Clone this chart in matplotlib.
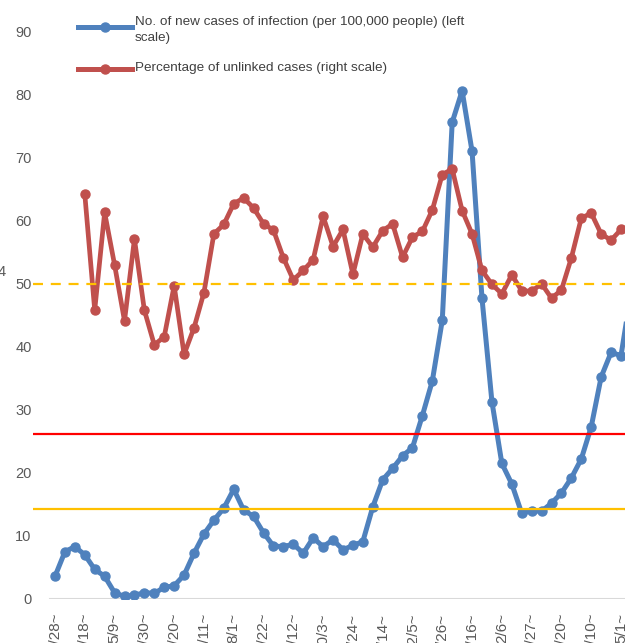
import matplotlib
matplotlib.use("Agg")
import matplotlib.pyplot as plt
from matplotlib.lines import Line2D

# ---- data ----
date_labels = ["3/28~", "4/18~", "5/9~", "5/30~", "6/20~", "7/11~", "8/1~", "8/22~",
               "9/12~", "10/3~", "10/24~", "11/14~", "12/5~", "12/26~", "1/16~", "2/6~",
               "2/27~", "3/20~", "4/10~", "5/1~"]
new_cases = [3.6, 7.5, 8.3, 7.0, 4.7, 3.6, 1.0, 0.4, 0.6, 1.0,
             0.9, 1.85, 2.1, 3.8, 7.25, 10.3, 12.5, 14.4, 17.4, 14.1,
             13.1, 10.5, 8.4, 8.3, 8.7, 7.25, 9.7, 8.3, 9.4, 7.8,
             8.5, 9.1, 14.6, 18.9, 20.7, 22.7, 24.0, 29.1, 34.6, 44.2,
             75.6, 80.6, 71.0, 47.7, 31.3, 21.5, 18.25, 13.6, 14.0, 13.9,
             15.2, 16.8, 19.2, 22.2, 27.3, 35.2, 39.1, 38.6, 48.5]
unlinked_start = 3
unlinked_pct = [64.2, 45.8, 61.3, 53.0, 44.1, 57.1, 45.8, 40.3, 41.6, 49.7,
                38.8, 43.0, 48.6, 57.9, 59.4, 62.7, 63.6, 62.0, 59.5, 58.5,
                54.1, 50.6, 52.1, 53.8, 60.7, 55.9, 58.6, 51.5, 57.9, 55.8,
                58.4, 59.5, 54.2, 57.4, 58.3, 61.7, 67.3, 68.2, 61.6, 57.9,
                52.1, 49.9, 48.4, 51.4, 48.9, 48.8, 50.0, 47.7, 49.0, 54.1,
                60.4, 61.2, 57.9, 56.9, 58.6, 59.0]
ref_dashed = 50.0
ref_red = 26.2
ref_yellow = 14.3
legend_labels = ["No. of new cases of infection (per 100,000 people) (left\nscale)",
                 "Percentage of unlinked cases (right scale)"]

BLUE = "#4F81BD"
RED = "#C0504D"
YEL = "#FFC000"
GRID = "#D9D9D9"
TXT = "#595959"

W, H = 625, 643
fig = plt.figure(figsize=(W / 100, H / 100), dpi=100)

px_left, px_right = 33, 625
px_top, px_bot = 31.5, 599
x0_px, dx_px = 55.0, 9.93

ax = fig.add_axes([px_left / W, 1 - px_bot / H, (px_right - px_left) / W, (px_bot - px_top) / H])
ax.set_xlim((px_left - x0_px) / dx_px, (px_right - x0_px) / dx_px)
ax.set_ylim(0, 90)
for s in ax.spines.values():
    s.set_visible(False)

xs = list(range(len(new_cases)))
ax.plot([-0.5, len(new_cases) + 5], [0, 0], color=GRID, lw=1.5, zorder=1, clip_on=True)
ax.plot(xs, new_cases, color=BLUE, lw=3.6, marker="o", ms=6.5, zorder=3)

ax.set_yticks(range(0, 91, 10))
ax.tick_params(axis="y", length=0, pad=1, labelsize=10.5, labelcolor=TXT)
for t in ax.get_yticklabels():
    t.set_fontfamily("Liberation Sans")
tick_idx = list(range(0, 3 * len(date_labels), 3))
ax.set_xticks(tick_idx)
ax.set_xticklabels(date_labels, rotation=90, fontsize=11, color=TXT, family="Liberation Sans")
ax.tick_params(axis="x", length=0, pad=10)

ax2 = ax.twinx()
ax2.set_ylim(0, 90)
ax2.set_yticks([])
for s in ax2.spines.values():
    s.set_visible(False)
rx = list(range(unlinked_start, unlinked_start + len(unlinked_pct)))
ax2.plot(rx, unlinked_pct, color=RED, lw=3.4, marker="o", ms=6.5, zorder=3)

xl = ax.get_xlim()
ax2.plot(xl, [ref_dashed] * 2, color=YEL, lw=1.6, ls=(0, (4.5, 3.5)), zorder=5)
ax2.plot(xl, [ref_red] * 2, color="#FF0000", lw=1.6, zorder=5)
ax2.plot(xl, [ref_yellow] * 2, color=YEL, lw=1.6, zorder=5)
ax2.set_xlim(xl)

# legend (manual)
for (yy, col) in [(27, BLUE), (69, RED)]:
    fig.add_artist(Line2D([78 / W, 132 / W], [1 - yy / H] * 2, color=col, lw=3.6,
                          transform=fig.transFigure))
    fig.add_artist(Line2D([105 / W], [1 - yy / H], color=col, marker="o", ms=6.5,
                          transform=fig.transFigure))
fig.text(135 / W, 1 - 30 / H, legend_labels[0], ha="left", va="center", fontsize=9.7,
         color="#404040", family="Liberation Sans", linespacing=1.35)
fig.text(135 / W, 1 - 68 / H, legend_labels[1], ha="left", va="center", fontsize=9.7,
         color="#404040", family="Liberation Sans")
fig.text(6 / W, 1 - 272 / H, "4", ha="right", va="center", fontsize=10.5, color=TXT,
         family="Liberation Sans")

fig.savefig("out.png", dpi=100)
